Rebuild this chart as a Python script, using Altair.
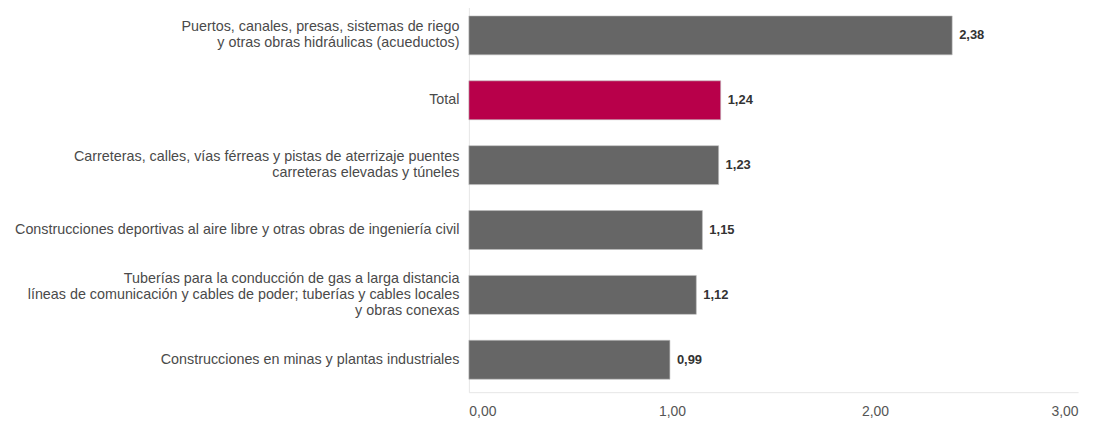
import altair as alt
import pandas as pd

categorias = [
    "Puertos, canales, presas, sistemas de riego\ny otras obras hidráulicas (acueductos)",
    "Total",
    "Carreteras, calles, vías férreas y pistas de aterrizaje puentes\ncarreteras elevadas y túneles",
    "Construcciones deportivas al aire libre y otras obras de ingeniería civil",
    "Tuberías para la conducción de gas a larga distancia\nlíneas de comunicación y cables de poder; tuberías y cables locales\ny obras conexas",
    "Construcciones en minas y plantas industriales",
]
valores = [2.38, 1.24, 1.23, 1.15, 1.12, 0.99]
destacado = [False, True, False, False, False, False]
ticks_x = [0, 1, 2, 3]

df = pd.DataFrame({"categoria": categorias, "valor": valores, "destacado": destacado})

LINE_H = 16

y_enc = alt.Y(
    "categoria:N",
    sort=categorias,
    title=None,
    scale=alt.Scale(paddingInner=0.4, paddingOuter=0.2),
    axis=alt.Axis(
        labelExpr="split(datum.label, '\\n')",
        labelFontSize=14.4,
        labelLineHeight=LINE_H,
        labelColor="#4a4a4a",
        labelFont="Liberation Sans",
        labelLimit=1000,
        labelPadding=10,
        labelOffset={
            "condition": [
                {"test": "length(split(datum.value, '\\n')) == 3", "value": -LINE_H},
                {"test": "length(split(datum.value, '\\n')) == 2", "value": -LINE_H / 2},
            ],
            "value": 0,
        },
        ticks=False,
        domainColor="#e6e6e6",
        grid=False,
    ),
)

x_enc = alt.X(
    "valor:Q",
    title=None,
    scale=alt.Scale(domain=[0, 3], nice=False),
    axis=alt.Axis(
        values=ticks_x,
        labelExpr="replace(format(datum.value, '.2f'), '.', ',')",
        labelFontSize=14,
        labelColor="#555555",
        labelFont="Liberation Sans",
        labelPadding=12,
        ticks=False,
        grid=False,
        domainColor="#e6e6e6",
    ),
)

bars = alt.Chart(df).mark_bar(stroke="#bdbdbd", strokeWidth=0.6).encode(
    y=y_enc,
    x=x_enc,
    color=alt.Color(
        "destacado:N",
        scale=alt.Scale(domain=[False, True], range=["#666666", "#b8004a"]),
        legend=None,
    ),
)

labels = (
    alt.Chart(df)
    .transform_calculate(etiqueta="replace(format(datum.valor, '.2f'), '.', ',')")
    .mark_text(
        align="left",
        baseline="middle",
        dx=7,
        fontSize=13,
        fontWeight="bold",
        color="#333333",
        font="Liberation Sans",
    )
    .encode(y=alt.Y("categoria:N", sort=categorias), x="valor:Q", text="etiqueta:N")
)

chart = (
    alt.layer(bars, labels)
    .properties(
        width=612,
        height=391,
        autosize=alt.AutoSizeParams(type="none"),
        padding={"left": 463, "top": -6, "right": 15, "bottom": 30},
        background="white",
    )
    .configure_view(stroke=None)
)

chart.save("out.html", embed_options={"renderer": "svg", "actions": False})
